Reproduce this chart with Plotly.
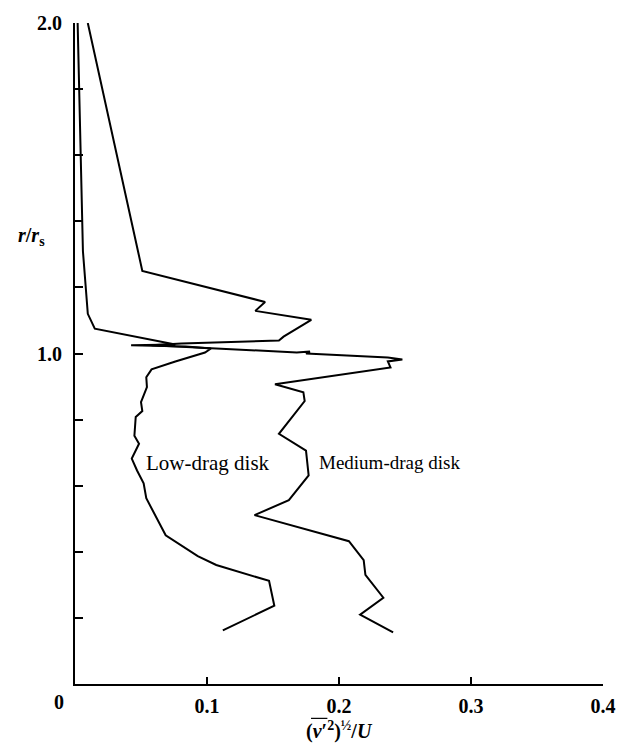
import plotly.graph_objects as go

# Low-drag disk profile
low_x = [0.002, 0.006, 0.0097, 0.015, 0.076, 0.0425, 0.084, 0.103, 0.0985, 0.076, 0.058,
         0.054, 0.0545, 0.050, 0.051, 0.046, 0.045, 0.0485, 0.043, 0.047, 0.052, 0.054,
         0.0687, 0.093, 0.107, 0.147, 0.151, 0.112]
low_y = [2.0, 1.31, 1.12, 1.075, 1.027, 1.025, 1.021, 1.015, 1.003, 0.976, 0.952,
         0.928, 0.898, 0.853, 0.826, 0.808, 0.751, 0.727, 0.682, 0.646, 0.607, 0.562,
         0.450, 0.387, 0.360, 0.312, 0.237, 0.162]

# Medium-drag disk profile
med_x = [0.0097, 0.051, 0.144, 0.1366, 0.179, 0.158, 0.1545, 0.0806, 0.058, 0.110,
         0.168, 0.178, 0.175, 0.237, 0.248, 0.237, 0.239, 0.1515, 0.173, 0.174,
         0.1545, 0.175, 0.177, 0.162, 0.136, 0.2075, 0.2187, 0.220, 0.2336, 0.216, 0.241]
med_y = [2.0, 1.25, 1.156, 1.129, 1.102, 1.051, 1.039, 1.030, 1.025, 1.015,
         1.003, 1.006, 1.000, 0.988, 0.982, 0.976, 0.958, 0.907, 0.883, 0.856,
         0.757, 0.706, 0.631, 0.556, 0.511, 0.432, 0.375, 0.330, 0.261, 0.210, 0.156]

x_ticks = [0.1, 0.2, 0.3, 0.4]
x_tick_labels = ["0.1", "0.2", "0.3", "0.4"]
y_ticks = [0.2, 0.4, 0.6, 0.8, 1.0, 1.2, 1.4, 1.6, 1.8, 2.0]
y_tick_labels = ["", "", "", "", "1.0", "", "", "", "", "2.0"]

FONT = "Liberation Serif"
BLACK = "black"

fig = go.Figure()
line_style = dict(color=BLACK, width=2)
fig.add_trace(go.Scatter(x=low_x, y=low_y, mode="lines", line=line_style,
                         showlegend=False, hoverinfo="skip"))
fig.add_trace(go.Scatter(x=med_x, y=med_y, mode="lines", line=line_style,
                         showlegend=False, hoverinfo="skip"))

annotations = [
    dict(x=0.052, y=0.67, xref="x", yref="y", text="Low-drag disk", showarrow=False,
         xanchor="left", yanchor="middle", font=dict(family=FONT, size=21, color=BLACK)),
    dict(x=0.183, y=0.67, xref="x", yref="y", text="Medium-drag disk", showarrow=False,
         xanchor="left", yanchor="middle", font=dict(family=FONT, size=19, color=BLACK)),
    dict(x=-0.030, y=-0.027, xref="paper", yref="paper", text="<b>0</b>", showarrow=False,
         xanchor="center", yanchor="middle", font=dict(family=FONT, size=20, color=BLACK)),
    dict(x=-0.082, y=0.677, xref="paper", yref="paper",
         text="<b><i>r</i>/<i>r</i><sub>s</sub></b>", showarrow=False,
         xanchor="center", yanchor="middle", font=dict(family=FONT, size=20, color=BLACK)),
    dict(x=0.5, y=-0.071, xref="paper", yref="paper",
         text="<b>(<i>v</i>′<sup>2</sup>)<sup>½</sup>/<i>U</i></b>", showarrow=False,
         xanchor="center", yanchor="middle", font=dict(family=FONT, size=20, color=BLACK)),
]

fig.update_layout(
    width=628, height=743,
    margin=dict(l=75, r=17, t=22, b=59),
    paper_bgcolor="white", plot_bgcolor="white",
    font=dict(family=FONT, size=20, color=BLACK),
    annotations=annotations,
    xaxis=dict(range=[0, 0.4], showgrid=False, zeroline=False, showline=True,
               linecolor=BLACK, linewidth=2, ticks="inside", ticklen=7, tickwidth=1.5,
               tickcolor=BLACK, tickvals=x_ticks, ticklabelstandoff=3,
               ticktext=[f"<b>{t}</b>" for t in x_tick_labels],
               tickfont=dict(family=FONT, size=20, color=BLACK)),
    yaxis=dict(range=[0, 2.0], showgrid=False, zeroline=False, showline=True,
               linecolor=BLACK, linewidth=2, ticks="inside", ticklen=8, tickwidth=1.5,
               tickcolor=BLACK, tickvals=y_ticks, ticklabelstandoff=7,
               ticktext=[f"<b>{t}</b>" if t else "" for t in y_tick_labels],
               tickfont=dict(family=FONT, size=20, color=BLACK)),
)

# overline above v'^2 in the axis title
fig.add_shape(type="line", xref="paper", yref="paper", x0=0.447, x1=0.478, y0=-0.052, y1=-0.052,
              line=dict(color=BLACK, width=1.2))

fig.write_html("out.html")
